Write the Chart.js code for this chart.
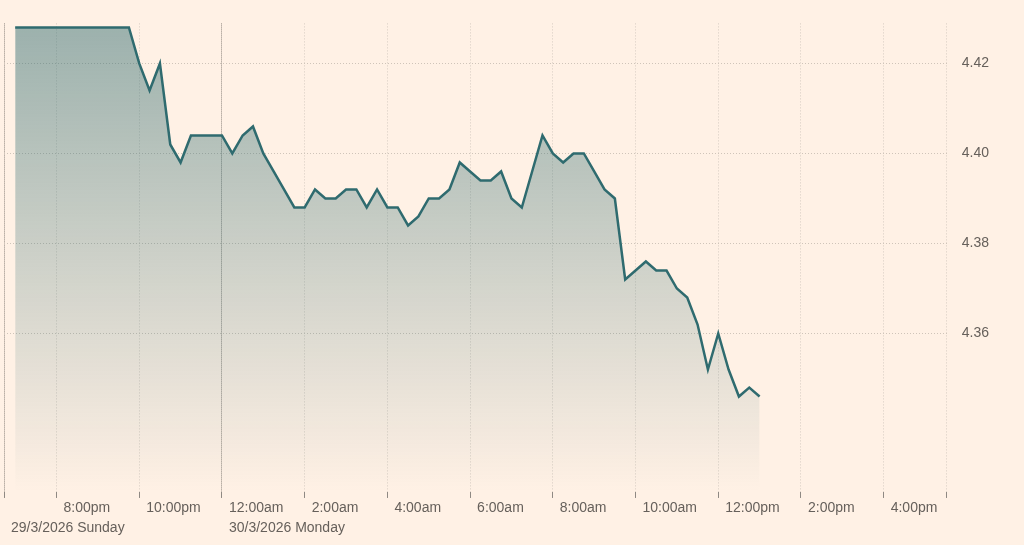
<!DOCTYPE html>
<html>
<head>
<meta charset="utf-8">
<script src="https://cdn.jsdelivr.net/npm/chart.js@4.4.1/dist/chart.umd.min.js"></script>
<style>
  html, body { margin: 0; padding: 0; background: #fff1e5; }
</style>
</head>
<body>
<canvas id="chart" width="1024" height="545"></canvas>
<script>
// hours since midnight of 29/3/2026, one reading every 15 minutes
const times = [
  19, 19.25, 19.5, 19.75, 20, 20.25, 20.5, 20.75, 21, 21.25, 21.5, 21.75,
  22, 22.25, 22.5, 22.75, 23, 23.25, 23.5, 23.75, 24, 24.25, 24.5, 24.75,
  25, 25.25, 25.5, 25.75, 26, 26.25, 26.5, 26.75, 27, 27.25, 27.5, 27.75,
  28, 28.25, 28.5, 28.75, 29, 29.25, 29.5, 29.75, 30, 30.25, 30.5, 30.75,
  31, 31.25, 31.5, 31.75, 32, 32.25, 32.5, 32.75, 33, 33.25, 33.5, 33.75,
  34, 34.25, 34.5, 34.75, 35, 35.25, 35.5, 35.75, 36, 36.25, 36.5, 36.75, 37
];
const yields = [
  4.428, 4.428, 4.428, 4.428, 4.428, 4.428, 4.428, 4.428, 4.428, 4.428, 4.428, 4.428,
  4.420, 4.414, 4.420, 4.402, 4.398, 4.404, 4.404, 4.404, 4.404, 4.400, 4.404, 4.406,
  4.400, 4.396, 4.392, 4.388, 4.388, 4.392, 4.390, 4.390, 4.392, 4.392, 4.388, 4.392,
  4.388, 4.388, 4.384, 4.386, 4.390, 4.390, 4.392, 4.398, 4.396, 4.394, 4.394, 4.396,
  4.390, 4.388, 4.396, 4.404, 4.400, 4.398, 4.400, 4.400, 4.396, 4.392, 4.390, 4.372,
  4.374, 4.376, 4.374, 4.374, 4.370, 4.368, 4.362, 4.352, 4.360, 4.352, 4.346, 4.348, 4.346
];

const xMin = 18.73, xMax = 41.525;
const yMin = 4.3248, yMax = 4.4289;
const hourTicks = [20, 22, 24, 26, 28, 30, 32, 34, 36, 38, 40];
const hourLabels = ['8:00pm', '10:00pm', '12:00am', '2:00am', '4:00am', '6:00am',
                    '8:00am', '10:00am', '12:00pm', '2:00pm', '4:00pm'];
const dayTicks = [xMin, 24];
const dayLabels = ['29/3/2026 Sunday', '30/3/2026 Monday'];
const yTicks = [4.36, 4.38, 4.40, 4.42];

const lineColor = '#2f6b6f';
const textColor = '#66605b';

const isDayLine = v => dayTicks.includes(v);

new Chart(document.getElementById('chart'), {
  type: 'line',
  data: {
    datasets: [{
      data: times.map((t, i) => ({ x: t, y: yields[i] })),
      borderColor: lineColor,
      borderWidth: 2.5,
      pointRadius: 0,
      tension: 0,
      fill: 'start',
      backgroundColor: (ctx) => {
        const area = ctx.chart.chartArea;
        if (!area) return 'rgba(47,107,111,0.3)';
        const g = ctx.chart.ctx.createLinearGradient(0, area.top, 0, area.bottom);
        g.addColorStop(0, 'rgba(47,107,111,0.48)');
        g.addColorStop(1, 'rgba(47,107,111,0)');
        return g;
      }
    }]
  },
  options: {
    responsive: false,
    animation: false,
    devicePixelRatio: 1,
    layout: { padding: { left: 4, top: 22, right: 20, bottom: 7 } },
    plugins: { legend: { display: false }, tooltip: { enabled: false } },
    scales: {
      x: {
        type: 'linear',
        min: xMin,
        max: xMax,
        afterBuildTicks: axis => {
          axis.ticks = [xMin, ...hourTicks, xMax].map(v => ({ value: v }));
        },
        grid: {
          color: ctx => isDayLine(ctx.tick.value) ? '#8f8780' : '#d6cbc0',
          tickColor: '#8f8983',
          tickLength: 6,
          tickBorderDash: [],
          tickWidth: 1
        },
        border: {
          display: false,
          dash: ctx => isDayLine(ctx.tick.value) ? [1, 1] : [1, 2]
        },
        ticks: {
          autoSkip: false,
          maxRotation: 0,
          align: 'start',
          labelOffset: 7,
          padding: 0,
          color: textColor,
          font: { family: 'Liberation Sans, Arial, sans-serif', size: 14, lineHeight: 1.43 },
          callback: (value) => {
            const h = hourTicks.indexOf(value);
            const d = dayTicks.indexOf(value);
            const hourText = h >= 0 ? hourLabels[h] : '';
            return d >= 0 ? [hourText, dayLabels[d]] : hourText;
          }
        }
      },
      y: {
        position: 'right',
        min: yMin,
        max: yMax,
        afterBuildTicks: axis => {
          axis.ticks = yTicks.map(v => ({ value: v }));
        },
        grid: { color: '#cfc4b9', drawTicks: false },
        border: { display: false, dash: [1, 2] },
        ticks: {
          padding: 15,
          color: textColor,
          font: { family: 'Liberation Sans, Arial, sans-serif', size: 14 },
          callback: v => v.toFixed(2)
        }
      }
    }
  }
});
</script>
</body>
</html>
